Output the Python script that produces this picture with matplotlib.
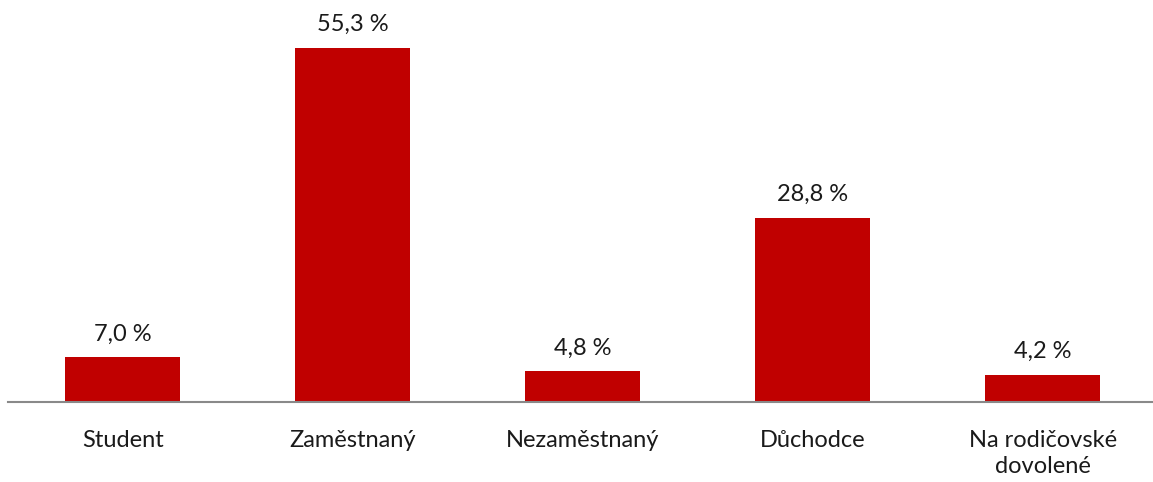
import matplotlib.pyplot as plt

categories = ["Student", "Zaměstnaný", "Nezaměstnaný", "Důchodce", "Na rodičovské\ndovolené"]
values = [7.0, 55.3, 4.8, 28.8, 4.2]
value_labels = ["7,0 %", "55,3 %", "4,8 %", "28,8 %", "4,2 %"]

plt.rcParams['font.family'] = ['Lato', 'DejaVu Sans']

fig = plt.figure(figsize=(11.53, 4.82), dpi=100)
ax = fig.add_axes([8 / 1153, 80 / 482, 1 - 8 / 1153, 1 - 80 / 482])

x = range(len(categories))
bars = ax.bar(x, values, width=0.5, color='#C00000')
for b, lab in zip(bars, value_labels):
    ax.text(b.get_x() + b.get_width() / 2, b.get_height() + 2.0, lab,
            ha='center', va='bottom', fontsize=17, color='#1a1a1a')

ax.set_xlim(-0.5, 4.48)
ax.set_ylim(0, 62.8)
ax.set_xticks(list(x))
ax.set_xticklabels(categories, fontsize=17, color='#1a1a1a', linespacing=1.3)
ax.tick_params(axis='x', length=0, pad=20)
ax.set_yticks([])
for s in ['top', 'right', 'left']:
    ax.spines[s].set_visible(False)
ax.spines['bottom'].set_color('#898989')
ax.spines['bottom'].set_linewidth(1.5)

fig.savefig('out.png', dpi=100)
